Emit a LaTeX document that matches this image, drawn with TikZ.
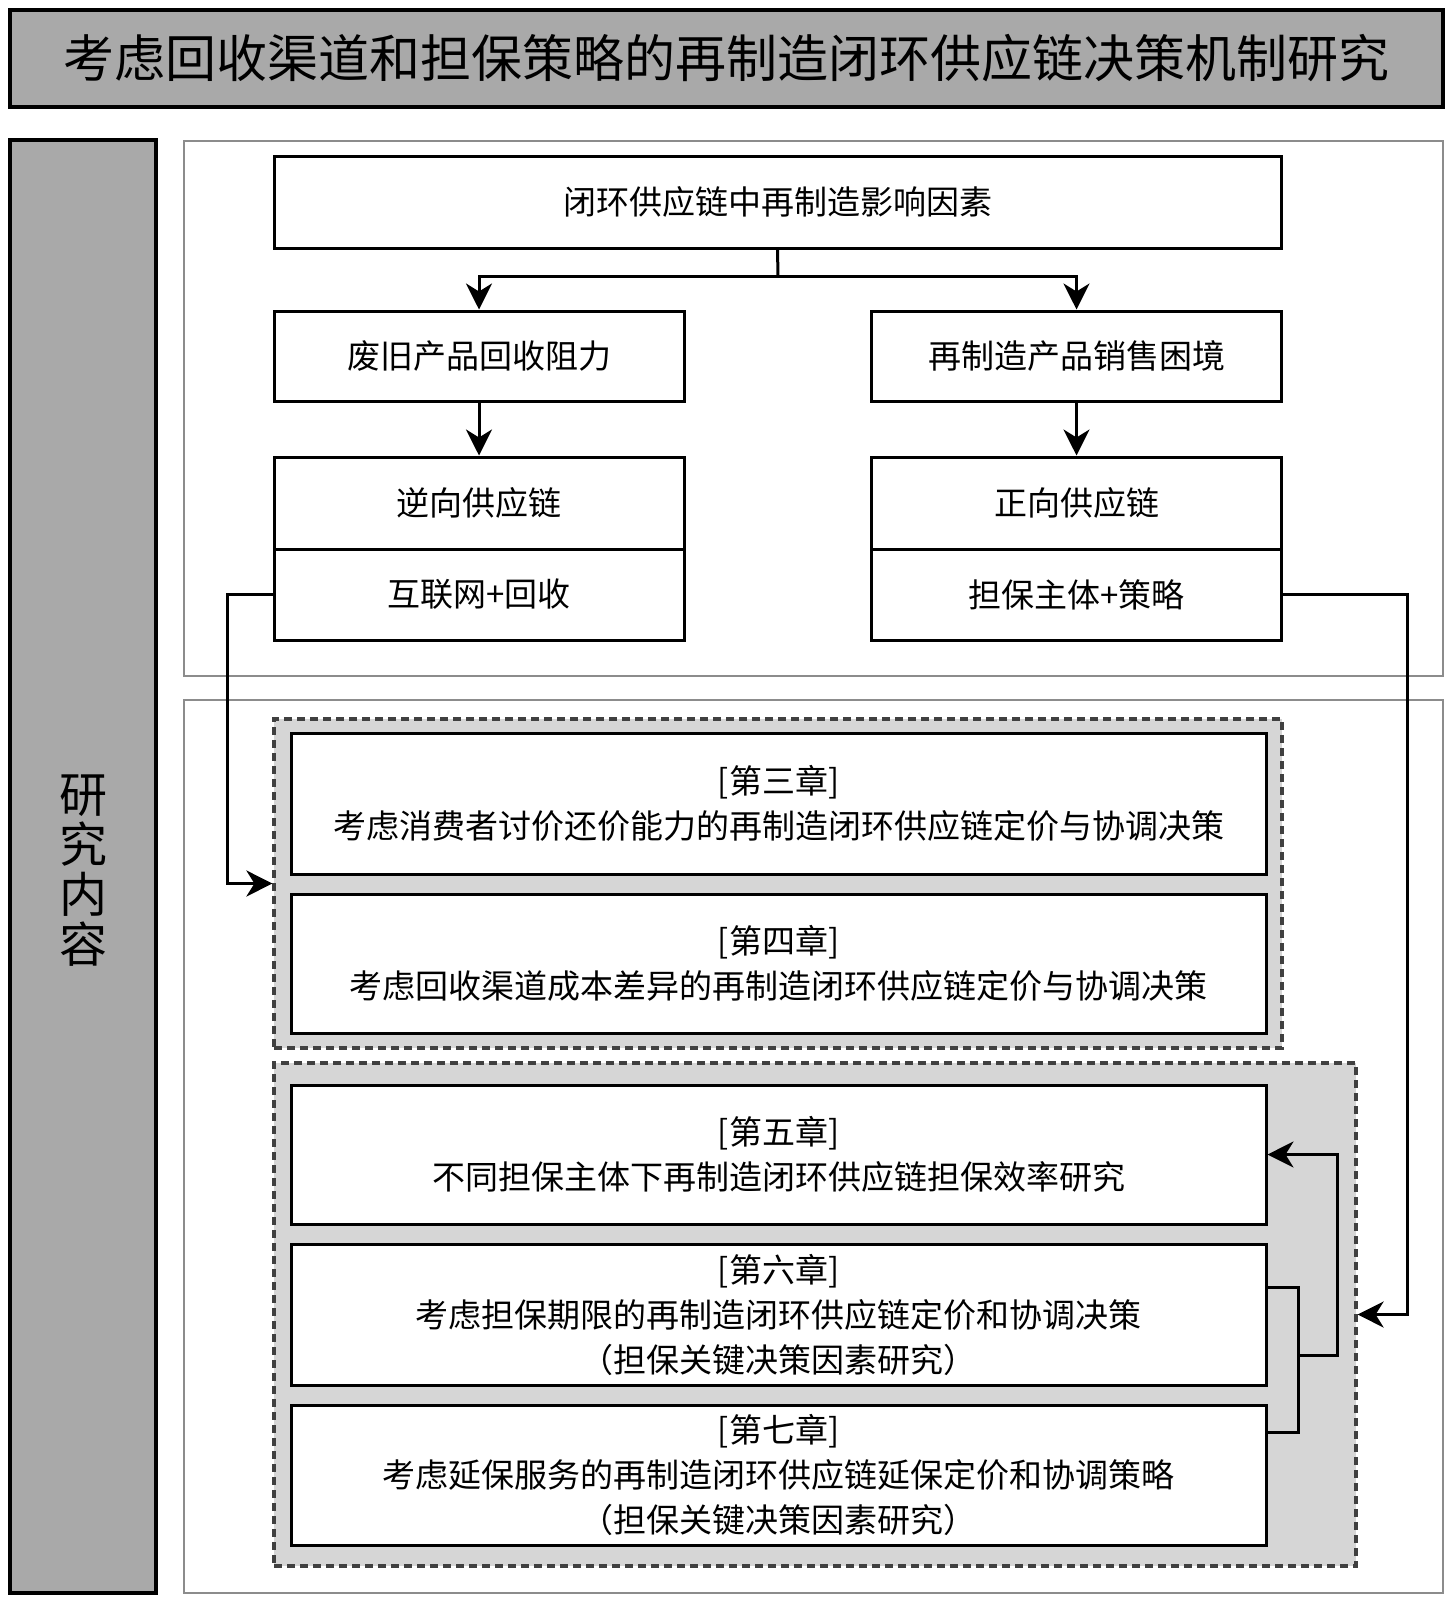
\documentclass[tikz,border=0pt]{standalone}
\usepackage{fontspec}
\setmainfont{Noto Sans CJK SC}
\usetikzlibrary{arrows.meta}

\definecolor{headgray}{HTML}{A9A9A9}
\definecolor{bandgray}{HTML}{D6D6D6}
\definecolor{framegray}{HTML}{8C8C8C}
\definecolor{dashgray}{HTML}{404040}

\begin{document}
\begin{tikzpicture}
  [
    x=0.5pt, y=-0.5pt,
    box/.style =
      {draw, line width=1.5pt, fill=white, align=center, inner sep=0pt,
       font=\fontsize{16.5}{22.5}\selectfont},
    head/.style =
      {draw, line width=1.8pt, fill=headgray, inner sep=0pt},
    panel/.style =
      {draw=framegray, line width=1pt, inner sep=0pt},
    group/.style =
      {draw=dashgray, line width=1.6pt, dash pattern=on 4pt off 2.5pt,
       fill=bandgray, inner sep=0pt},
    line/.style = {line width=1.5pt},
    sarrow/.style =
      { line, -{Stealth[length=13pt, width=13pt, inset=4pt]}}
  ]
  \useasboundingbox (0,0) rectangle (1451,1600);

  % frames
  \node [head, minimum width=716.5pt, minimum height=48.5pt,
         font=\fontsize{25.5}{28}\selectfont] at (726.5, 58.5) (title)
        {考虑回收渠道和担保策略的再制造闭环供应链决策机制研究};
  \node [head, minimum width=73pt, minimum height=726.5pt] at (83, 866.5) (side) {};
  \node [align=center, font=\fontsize{24}{25}\selectfont] at (83, 871) (sidetext)
        {研\\究\\内\\容};
  \node [panel, minimum width=629.5pt, minimum height=267.5pt] at (813.5, 408.5) (upper) {};
  \node [panel, minimum width=629.5pt, minimum height=446.5pt] at (813.5, 1146.5) (lower) {};

  % upper part
  \node [box, minimum width=503.5pt, minimum height=46pt] at (777.5, 202) (factor)
        {闭环供应链中再制造影响因素};
  \node [box, minimum width=205pt, minimum height=45pt] at (479, 356) (recyc)
        {废旧产品回收阻力};
  \node [box, minimum width=205pt, minimum height=45pt] at (1076.5, 356) (sales)
        {再制造产品销售困境};
  \node [box, minimum width=205pt, minimum height=46pt] at (479, 503) (rsc)
        {逆向供应链};
  \node [box, minimum width=205pt, minimum height=45.5pt] at (479, 594.5) (net)
        {互联网+回收};
  \node [box, minimum width=205pt, minimum height=46pt] at (1076.5, 503) (fsc)
        {正向供应链};
  \node [box, minimum width=205pt, minimum height=45.5pt] at (1076.5, 594.5) (warr)
        {担保主体+策略};

  % lower part
  \node [group, minimum width=504pt, minimum height=164.5pt] at (778, 883.5) (grpa) {};
  \node [group, minimum width=541pt, minimum height=251.5pt] at (815, 1314.5) (grpb) {};

  \node [box, minimum width=487.5pt, minimum height=70.5pt] at (778.5, 803.5) (ch3)
        {[第三章]\\考虑消费者讨价还价能力的再制造闭环供应链定价与协调决策};
  \node [box, minimum width=487.5pt, minimum height=69.5pt] at (778.5, 963.5) (ch4)
        {[第四章]\\考虑回收渠道成本差异的再制造闭环供应链定价与协调决策};
  \node [box, minimum width=487.5pt, minimum height=69.5pt] at (778.5, 1154.5) (ch5)
        {[第五章]\\不同担保主体下再制造闭环供应链担保效率研究};
  \node [box, minimum width=487.5pt, minimum height=70.5pt] at (778.5, 1314.5) (ch6)
        {[第六章]\\考虑担保期限的再制造闭环供应链定价和协调决策\\（担保关键决策因素研究）};
  \node [box, minimum width=487.5pt, minimum height=70pt] at (778.5, 1475) (ch7)
        {[第七章]\\考虑延保服务的再制造闭环供应链延保定价和协调策略\\（担保关键决策因素研究）};

  % connectors
  \coordinate (split) at (778, 276);
  \coordinate (lturn) at (227, 594.5);
  \coordinate (rturn) at (1407, 594.5);
  \coordinate (brk)   at (1298, 1355);
  \coordinate (brk2)  at (1337, 1355);

  \draw [line]   (factor.south) -- (split);
  \draw [sarrow] (split) -| (recyc.north);
  \draw [sarrow] (split) -| (sales.north);
  \draw [sarrow] (recyc.south) -- (rsc.north);
  \draw [sarrow] (sales.south) -- (fsc.north);
  \draw [sarrow] (net.west)  -- (lturn) |- (grpa.west);
  \draw [sarrow] (warr.east) -- (rturn) |- (grpb.east);
  \draw [line]   ([yshift=13.75pt]ch6.east) -| (brk) |- ([yshift=21.5pt]ch7.east);
  \draw [sarrow] (brk) -- (brk2) |- (ch5.east);
\end{tikzpicture}
\end{document}
